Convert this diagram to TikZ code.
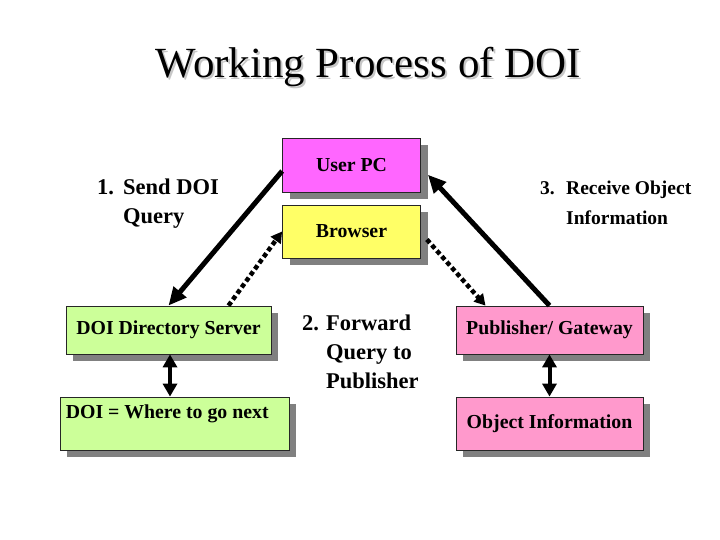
\documentclass[tikz,border=0pt]{standalone}
\usepackage{fontspec}
\setmainfont{Liberation Serif}
\usetikzlibrary{arrows.meta, shadows}
\usepackage{xcolor}

\definecolor{pcmagenta}{HTML}{FF66FF}
\definecolor{browseryellow}{HTML}{FFFF66}
\definecolor{doigreen}{HTML}{CCFF99}
\definecolor{pubpink}{HTML}{FF99CC}
\definecolor{shadowgray}{HTML}{808080}

% text with a light shadow behind it
\newcommand{\shadowtext}[1]{\makebox[0pt][l]{\hspace{2pt}\raisebox{-2pt}{\color{black!22}#1}}#1}

\begin{document}
\begin{tikzpicture}[x=1pt, y=1pt,
        box/.style={draw=black!85, line width=0.8pt, inner sep=0pt,
            font=\fontsize{19.8}{23}\selectfont\bfseries,
            drop shadow={shadow xshift=7pt, shadow yshift=-7pt, fill=shadowgray, opacity=1}},
        stepnote/.style={anchor=base west, inner sep=0pt, font=\fontsize{22.5}{29}\selectfont\bfseries},
        solidarrow/.style={line width=5pt, -{Triangle[length=18pt, width=16pt]}},
        dotarrow/.style={line width=4.5pt, dash pattern=on 4.5pt off 3pt, -{Triangle[length=11pt, width=12pt]}},
        bothway/.style={line width=4pt, {Triangle[length=13pt, width=14pt]}-{Triangle[length=13pt, width=14pt]}}
    ]
        \useasboundingbox (0, 0) rectangle (720, 540);
        \fill[white] (0, 0) rectangle (720, 540);

        % Title
        \node[anchor=base, font=\fontsize{43}{50}\selectfont] (title) at (368.5, 462) {\shadowtext{Working Process of DOI}};

        % Top (user side)
        \node[box, fill=pcmagenta, minimum width=138pt, minimum height=54pt] (userpc) at (351.5, 375) {User PC};
        \node[box, fill=browseryellow, minimum width=138pt, minimum height=53pt] (browser) at (351.5, 308.5) {Browser};

        % Left side (DOI directory)
        \node[box, fill=doigreen, minimum width=205pt, minimum height=48pt] (doiserver) at (168.5, 210) {DOI Directory Server};
        \node[box, fill=doigreen, minimum width=229pt, minimum height=53pt] (doinext) at (174.5, 116.5) {};
        \node[anchor=north west, inner sep=0pt, font=\fontsize{19.8}{23}\selectfont\bfseries] (doinexttext) at ([xshift=6pt, yshift=-8pt]doinext.north west) {DOI = Where to go next};

        % Right side (publisher)
        \node[box, fill=pubpink, minimum width=187pt, minimum height=48pt] (publisher) at (549.5, 210) {Publisher/ Gateway};
        \node[box, fill=pubpink, minimum width=187pt, minimum height=53pt] (objinfo) at (549.5, 116.5) {Object Information};

        % Step labels
        \node[stepnote] (sendnote) at (97, 345) {\begin{tabular}[t]{@{}l@{}l@{}}\makebox[26pt][l]{1.}&Send DOI\\&Query\end{tabular}};
        \node[stepnote] (forwardnote) at (302, 209) {\begin{tabular}[t]{@{}l@{}l@{}}\makebox[24pt][l]{2.}&Forward\\&Query to\\&Publisher\end{tabular}};
        \node[stepnote, font=\fontsize{19.5}{30}\selectfont\bfseries] (receivenote) at (540, 345) {\begin{tabular}[t]{@{}l@{}l@{}}\makebox[26pt][l]{3.}&Receive Object\\&Information\end{tabular}};

        % Arrows
        \draw[solidarrow] (userpc.185) -- (doiserver.north);
        \draw[dotarrow] ([xshift=60pt]doiserver.north) -- (browser.west);
        \draw[dotarrow] ([xshift=6pt, yshift=-8pt]browser.east) -- ([xshift=-64pt]publisher.north);
        \draw[solidarrow] (publisher.north) -- ([xshift=7pt]userpc.352);

        \draw[bothway] ([xshift=1.5pt]doiserver.south) -- ([xshift=1.5pt]doiserver.south |- doinext.north);
        \draw[bothway] (publisher.south) -- (objinfo.north);
    \end{tikzpicture}
\end{document}
